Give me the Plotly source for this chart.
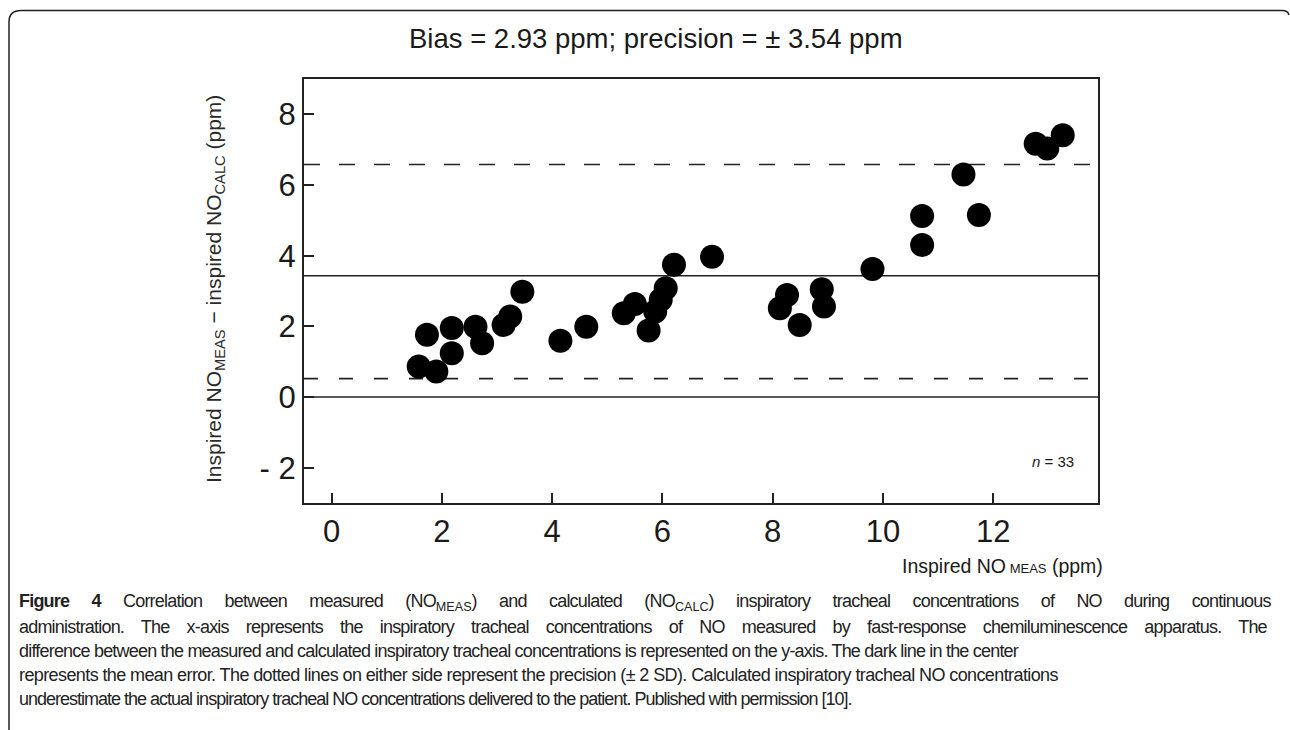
import plotly.graph_objects as go

# ---- data ----
no_meas = [1.58, 1.73, 1.90, 2.18, 2.18, 2.61, 2.73, 3.12, 3.24, 3.46,
           4.15, 4.62, 5.30, 5.50, 5.75, 5.87, 5.97, 6.06, 6.21, 6.90,
           8.13, 8.26, 8.49, 8.89, 8.93, 9.81, 10.71, 10.71, 11.46, 11.74,
           12.77, 12.98, 13.26]
difference = [0.86, 1.76, 0.72, 1.24, 1.95, 1.99, 1.52, 2.04, 2.28, 2.98,
              1.59, 1.99, 2.37, 2.63, 1.88, 2.42, 2.75, 3.08, 3.74, 3.97,
              2.51, 2.89, 2.04, 3.05, 2.56, 3.62, 4.30, 5.12, 6.30, 5.15,
              7.17, 7.03, 7.41]
mean_line = 3.43
upper_limit = 6.58
lower_limit = 0.52
zero_line = 0.0

x_tickvals = [0, 2, 4, 6, 8, 10, 12]
x_ticktext = ["0", "2", "4", "6", "8", "10", "12"]
y_tickvals = [-2, 0, 2, 4, 6, 8]
y_ticktext = ["- 2", "0", "2", "4", "6", "8"]

title_text = "Bias = 2.93 ppm; precision = ± 3.54 ppm"
# caption lines: list of (plain/sub) segments
caption_lines = [
    [("b", "Figure 4"), ("t", " Correlation between measured (NO"), ("s", "MEAS"),
     ("t", ") and calculated (NO"), ("s", "CALC"),
     ("t", ") inspiratory tracheal concentrations of NO during continuous")],
    [("t", "administration. The x-axis represents the inspiratory tracheal concentrations of NO measured by fast-response chemiluminescence apparatus. The")],
    [("t", "difference between the measured and calculated inspiratory tracheal concentrations is represented on the y-axis. The dark line in the center")],
    [("t", "represents the mean error. The dotted lines on either side represent the precision (± 2 SD). Calculated inspiratory tracheal NO concentrations")],
    [("t", "underestimate the actual inspiratory tracheal NO concentrations delivered to the patient. Published with permission [10].")],
]
caption_word_spacing = [18.1, 12.9, 0, 0, 0]
caption_letter_spacing = [-0.8, -0.8, -0.8, -0.6, -1.0]

# ---- layout geometry (pixels) ----
W, H = 1290, 730
L, R, T, B = 304, 1098, 79, 503


def px(xp):
    return (xp - L) / (R - L)


def py(yp):
    return (B - yp) / (B - T)


FONT = "Liberation Sans, Arial, Helvetica, sans-serif"
INK = "#1a1a1a"

fig = go.Figure()
fig.add_trace(go.Scatter(
    x=no_meas, y=difference, mode="markers",
    marker=dict(size=24, color="black", line=dict(width=0)),
    showlegend=False, hoverinfo="x+y",
))

shapes = []
for yv, dash in [(mean_line, "solid"), (zero_line, "solid"),
                 (upper_limit, "16px,19px"), (lower_limit, "14px,21px")]:
    shapes.append(dict(type="line", xref="paper", yref="y", x0=0, x1=1,
                       y0=yv, y1=yv, line=dict(color="#222", width=1.6, dash=dash),
                       layer="below"))

# outer rounded frame of the figure panel
frame = (f"M {px(9)},{py(730)} L {px(9)},{py(22)} "
         f"Q {px(9)},{py(10.5)} {px(21)},{py(10.5)} "
         f"L {px(1282)},{py(10.5)} Q {px(1288)},{py(10.5)} {px(1289)},{py(15)}")
shapes.append(dict(type="path", xref="paper", yref="paper", path=frame,
                   line=dict(color="#222", width=1.5)))

annotations = [
    dict(text=title_text, x=px(407), y=py(38.5), xref="paper", yref="paper",
         xanchor="left", yanchor="middle", showarrow=False,
         font=dict(family=FONT, size=27.5, color=INK)),
    dict(text="Inspired NO<sub>MEAS</sub> − inspired NO<sub>CALC</sub> (ppm)",
         x=px(215), y=py(289), xref="paper", yref="paper", textangle=-90,
         xanchor="center", yanchor="middle", showarrow=False,
         font=dict(family=FONT, size=21, color="#2a2a2a")),
    dict(text="Inspired NO<span style='font-size:13px'> MEAS</span> (ppm)",
         x=px(1105), y=py(566), xref="paper", yref="paper",
         xanchor="right", yanchor="middle", showarrow=False,
         font=dict(family=FONT, size=19.5, color=INK)),
    dict(text="<i>n</i> = 33", x=px(1076), y=py(461), xref="paper", yref="paper",
         xanchor="right", yanchor="middle", showarrow=False,
         font=dict(family=FONT, size=15, color=INK)),
]


def build_line(segs, ws, ls):
    st = f"letter-spacing:{ls}px;word-spacing:{ws}px"
    out = []
    for kind, txt in segs:
        if kind == "b":
            out.append(f"<b style='{st}'>{txt}</b>")
        elif kind == "s":
            out.append(f"<sub>{txt}</sub>")
        else:
            out.append(f"<span style='{st}'>{txt}</span>")
    return "".join(out)


line_y = [602, 626.5, 651, 675, 699]
for segs, ws, ls, ly in zip(caption_lines, caption_word_spacing,
                            caption_letter_spacing, line_y):
    annotations.append(dict(text=build_line(segs, ws, ls), x=px(17), y=py(ly),
                            xref="paper", yref="paper",
                            xanchor="left", yanchor="middle", showarrow=False,
                            font=dict(family=FONT, size=18, color="#222")))

fig.update_layout(
    width=W, height=H,
    margin=dict(l=L, r=W - R, t=T, b=H - B, pad=0),
    paper_bgcolor="white", plot_bgcolor="white",
    shapes=shapes, annotations=annotations, showlegend=False,
    xaxis=dict(range=[-0.5, 13.9], tickvals=x_tickvals, ticktext=x_ticktext,
               ticks="inside", ticklen=10, tickwidth=1.5, tickcolor="#222",
               showline=True, linecolor="#222", linewidth=2, mirror=True,
               showgrid=False, zeroline=False,
               tickfont=dict(family=FONT, size=31, color=INK)),
    yaxis=dict(range=[-3, 9], tickvals=y_tickvals, ticktext=y_ticktext,
               ticks="inside", ticklen=10, tickwidth=1.5, tickcolor="#222",
               showline=True, linecolor="#222", linewidth=2, mirror=True,
               showgrid=False, zeroline=False,
               tickfont=dict(family=FONT, size=31, color=INK)),
)

fig.write_html("out.html")
